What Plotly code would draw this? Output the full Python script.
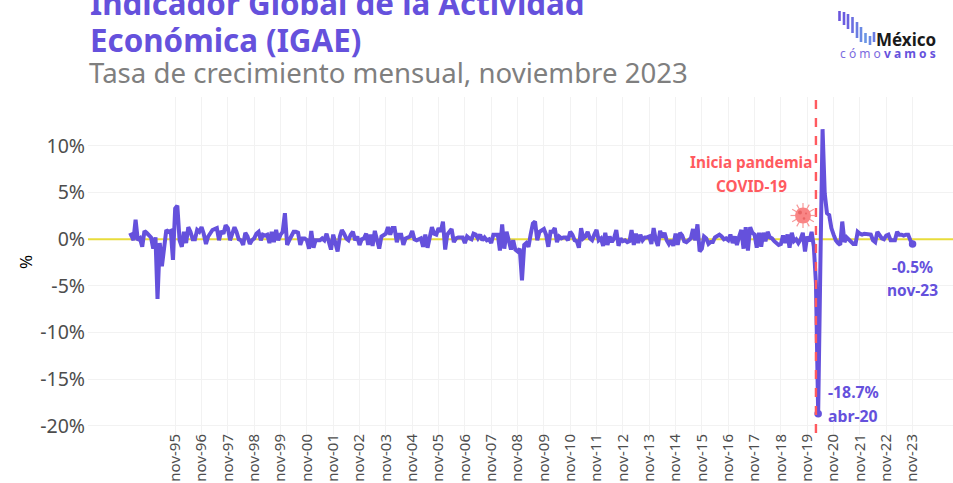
import math
import pandas as pd
import plotly.graph_objects as go

values_a = [.4,.5,-.1,2.1,-.1,.1,-.8,.9,.7,.5,.2,-1,.2,-6.4,-.4,-2.9,-1.1,1,.8,.9,-2.2,3.3,3.6,-.1,-.8,.8,-.4,1.3,.8,0,0,1,.8,1.3,.6,-.5,.3,.6,1,1.1,1.2,-.1,.9,.6,1.5,1.2,-.1,.6,1.3,.8,0,-.1,-.6,.7,.3,-.5,-.1,.1,.6,.8,-.1,.5,.4,.5,-.4,.8,-.3,1,-.1,.5,.8,2.8,-.6,-.1,.5,.8,.8,.7,-.6,.1,.1,-.1,-1,.9,-.9,-.1,-.1,-.1,.1,-.1,.6,-.2]
values_b = [-1.1,.5,-.4,-1.3,.3,1,.6,.1,-.1,.5,.8,-.1,.3,-.6,0,.1,.6,-.6,.5,-.7,.9,.1,-1,.3,.5,.6,1.3,.5,1.2,1.2,-.3,.5,.5,-.6,.1,.2,.3,.9,0,-.1,0,.1,-.8,.5,-.9,.3,1.3,.6,.5,1.2,.8,1.9,-1.1,.5,.8,1.1,-.3,.1,.2,.2,.2,-.4,.3,.1,0,.6,.5,.1,.5,-.1,.2,-.1,0,-.4,.5,.5,.5,-1.2,1.6,-1,.8,-.1,-1.1,-.1,-1.1,-1.3,-1,-4.4,-.6,-.4,-.8,.5,1.7,1.9,-.1,.8,.9,1.1,.5,-.8,.8,.8,1.2,-.3,.3,.1,.2,.2,-.1]
values_c = [.8,.5,-.1,-.2,-.9,1.2,.1,.3,.8,.1,-.1,.5,1,-.1,.1,-.7,.7,-.6,.3,-.3,.1,1,-.7,.1,-.2,-.1,-.3,-.2,1,-.6,.6,-.4,.5,-.1,.2,.2,.3,-.5,1.2,-.1,-.7,.9,.2,.7,-.1,-.5,-.1,-.7,.6,-.6,.7,.4,-.2,-.3,-.1,.1,1.1,-.1,1.6,-1.3,-1,.3,.1,-.5,-.3,-.3,.2,.4,.5,.3,0,.1,-.1,.5,-.4,.3,-.6,.3,1,-1,1.3,-1.2,1.3,.7,.5,-.9,.7,-.8,.7,-.2,.8,.2,.1,-.2,-.4,-.6,-.5,.4]
values_d = [-.4,.5,-.9,.7,-.2,0,-.4,0,.7,-1.3,.3,-.2,.8,-.8,-4.7,-18.7,-3]
values_e = [11.8,4.9,2.8,2.6,1.2,.5,-.1,-.4,-.6,1.9,-.3,.2,0,-.2,-.5,-.5,.8,.6,.5,.6,.6,.6,.5,-.1,-.3,.8,.5,.1,0,.4,.5,-.1,-.1,-.1,.8,.5,.5,.4,.5,.5,-.1,-.5]
values = values_a + values_b + values_c + values_d + values_e
dates = pd.date_range(end="2023-11-01", periods=len(values), freq="MS")

tick_years = list(range(1995, 2024))
tick_vals = [f"{y}-11-01" for y in tick_years]
tick_text = [f"nov-{y % 100:02d}" for y in tick_years]
y_ticks = [-20, -15, -10, -5, 0, 5, 10]
y_labels = [f"{v}%" for v in y_ticks]
x_range = ["1992-07-10", "2025-05-15"]

PURPLE = "#6551dc"
CORAL = "#ff5a5f"
FONT = "Noto Sans"
L, R, T, B = 88, 953, 97, 435
px = lambda x: (x - L) / (R - L)
py = lambda y: (B - y) / (B - T)

fig = go.Figure()
fig.add_trace(go.Scatter(x=x_range, y=[0, 0], mode="lines", line=dict(color="#e8dc3c", width=2), hoverinfo="skip"))
fig.add_trace(go.Scatter(x=dates, y=values, mode="lines", line=dict(color=PURPLE, width=4), hoverinfo="skip"))
fig.add_trace(go.Scatter(x=["2020-04-01", "2023-11-01"], y=[-18.7, -0.5], mode="markers",
                         marker=dict(color=PURPLE, size=7.5), hoverinfo="skip"))

shapes = [
    dict(type="line", xref="x", yref="paper", x0="2020-03-01", x1="2020-03-01", y0=py(433), y1=1,
         line=dict(color=CORAL, width=2.4, dash="dash"), layer="above"),
]
# virus icon
cx, cy = 803, 215.5
for k in range(12):
    a = 2 * math.pi * k / 12
    shapes.append(dict(type="line", xref="paper", yref="paper", x0=px(cx), y0=py(cy),
                       x1=px(cx + 12.5 * math.cos(a)), y1=py(cy + 12.5 * math.sin(a)),
                       line=dict(color="#f79a9a", width=1.2)))
shapes.append(dict(type="circle", xref="paper", yref="paper", x0=px(cx - 8), x1=px(cx + 8), y0=py(cy + 8), y1=py(cy - 8),
                   fillcolor="#f98585", line=dict(width=0)))
for dx, dy, r in [(-3, -3, 2), (1, 3, 1.3), (3, -2, 1)]:
    shapes.append(dict(type="circle", xref="paper", yref="paper", x0=px(cx + dx - r), x1=px(cx + dx + r),
                       y0=py(cy + dy + r), y1=py(cy + dy - r), fillcolor="#e86464", line=dict(width=0)))
# logo bars
logo = [(839.5, 11, 21), (844, 12, 25), (848, 14, 29), (852.5, 17, 33), (857, 22, 38), (861, 27, 42), (865.5, 33, 43), (870, 36, 45), (874, 32, 42)]
logo_cols = ["#6a55dc", "#6a5be0", "#6a62e0", "#6a6ee0", "#6a7ce2", "#6a8ae4", "#6a96e4", "#6a8ae4", "#6a7ce2"]
for (x, y0, y1), c in zip(logo, logo_cols):
    shapes.append(dict(type="line", xref="paper", yref="paper", x0=px(x), x1=px(x), y0=py(y0), y1=py(y1), line=dict(color=c, width=2.6)))

def note(x, y, text, size, color, anchor="center", **kw):
    return dict(xref="paper", yref="paper", x=px(x), y=py(y), text=text, showarrow=False, xanchor=anchor, yanchor="middle",
                font=dict(family=kw.pop("family", FONT), size=size, color=color), **kw)

annotations = [
    note(88, 3, "<b>Indicador Global de la Actividad</b>", 31.3, PURPLE, "left"),
    note(88, 40, "<b>Económica (IGAE)</b>", 31.3, PURPLE, "left"),
    note(87, 72, "Tasa de crecimiento mensual, noviembre 2023", 27.6, "#7f7f7f", "left"),
    note(751, 162, "<b>Inicia pandemia</b>", 15.3, CORAL),
    note(751, 186, "<b>COVID-19</b>", 15.3, CORAL),
    note(826, 392, "<b>-18.7%</b>", 15.8, PURPLE, "left"),
    note(826, 416, "<b>abr-20</b>", 15.8, PURPLE, "left"),
    note(912, 267, "<b>-0.5%</b>", 15.5, PURPLE),
    note(912, 290, "<b>nov-23</b>", 15.5, PURPLE),
    note(25, 262, "%", 17, "#000000", textangle=-90),
    note(938, 40, "<b>México</b>", 17, "#1a1a1a", "right"),
    note(838, 54, "c ó m o", 12, "#7b6be0", "left"),
    note(938, 54, "<b>v a m o s</b>", 12, PURPLE, "right"),
]

fig.update_layout(
    width=953, height=483, autosize=False, showlegend=False,
    margin=dict(l=L, r=953 - R, t=T, b=483 - B, pad=0),
    paper_bgcolor="white", plot_bgcolor="white",
    font=dict(family=FONT),
    shapes=shapes, annotations=annotations,
    xaxis=dict(type="date", range=x_range, tickmode="array", tickvals=tick_vals, ticktext=tick_text, automargin=False,
               tickangle=-90, tickfont=dict(size=15, color="#4d4d4d"), showgrid=True, gridcolor="#f2f2f2", gridwidth=1.2,
               ticklabelstandoff=-5, zeroline=False, showline=False, ticks=""),
    yaxis=dict(range=[-20.97, 15.25], tickmode="array", tickvals=y_ticks, ticktext=y_labels, ticklabelstandoff=2, automargin=False,
               tickfont=dict(size=19.5, color="#4d4d4d"), showgrid=True, gridcolor="#f2f2f2", gridwidth=1.2,
               zeroline=False, showline=False, ticks=""),
)
fig.write_html("out.html", config=dict(displayModeBar=False),
               post_script="document.body.style.margin='0';document.body.style.overflow='hidden';document.documentElement.style.overflow='hidden';")
